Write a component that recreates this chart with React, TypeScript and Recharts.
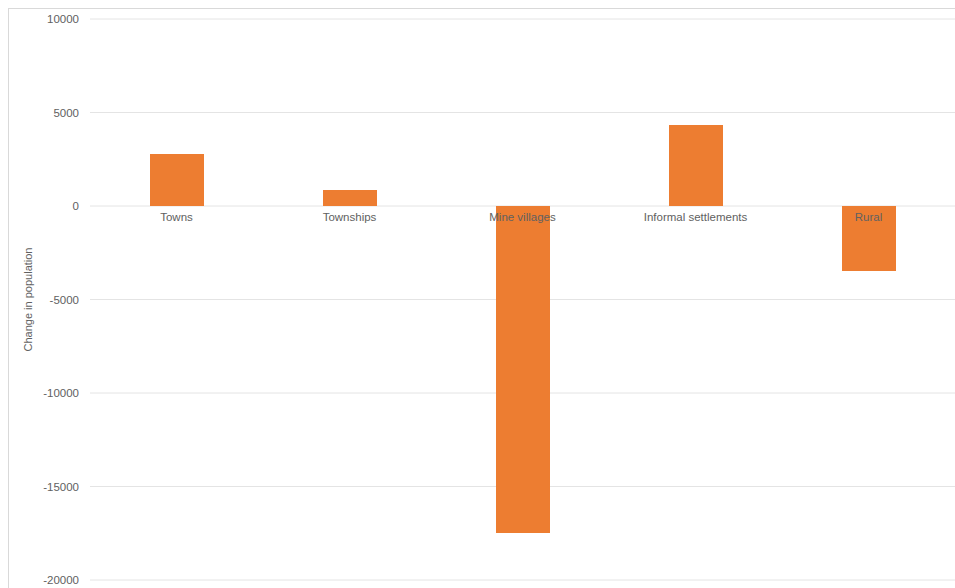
import { BarChart, Bar, XAxis, YAxis, CartesianGrid, ReferenceDot } from 'recharts'

const CATEGORIES = ['Towns', 'Townships', 'Mine villages', 'Informal settlements', 'Rural']
const CHANGE = [2780, 850, -17480, 4330, -3480]
const Y_TICKS = [-20000, -15000, -10000, -5000, 0, 5000, 10000]

const data = CATEGORIES.map((name, i) => ({ name, change: CHANGE[i] }))

const FONT = 'Liberation Sans, Arial, sans-serif'
const TEXT = '#616161'

export default function App() {
  return (
    <div
      style={{
        position: 'fixed',
        left: 8,
        top: 8,
        width: 947,
        height: 580,
        borderLeft: '1px solid #d9d9d9',
        borderTop: '1px solid #d9d9d9',
        overflow: 'hidden',
        background: '#fff',
      }}
    >
      <BarChart
        width={946}
        height={579}
        data={data}
        margin={{ top: 10, right: 0, bottom: 8, left: 0 }}
      >
        <CartesianGrid vertical={false} stroke="#e4e4e4" />
        <XAxis dataKey="name" hide />
        <YAxis
          width={81}
          domain={[-20000, 10000]}
          ticks={Y_TICKS}
          axisLine={false}
          tickLine={false}
          tickSize={0}
          tickMargin={11}
          tick={{ fontSize: 11.5, fill: TEXT, fontFamily: FONT }}
          label={{
            value: 'Change in population',
            angle: -90,
            position: 'insideLeft',
            offset: 19,
            style: { fontSize: 11, fill: TEXT, fontFamily: FONT, textAnchor: 'middle' },
          }}
        />
        <Bar dataKey="change" fill="#ED7D31" barSize={54} isAnimationActive={false} />
        {CATEGORIES.map(c => (
          <ReferenceDot
            key={c}
            x={c}
            y={0}
            r={0}
            fill="none"
            stroke="none"
            label={{
              value: c,
              position: 'bottom',
              offset: 7,
              style: { fontSize: 11.5, fill: TEXT, fontFamily: FONT },
            }}
          />
        ))}
      </BarChart>
    </div>
  )
}
